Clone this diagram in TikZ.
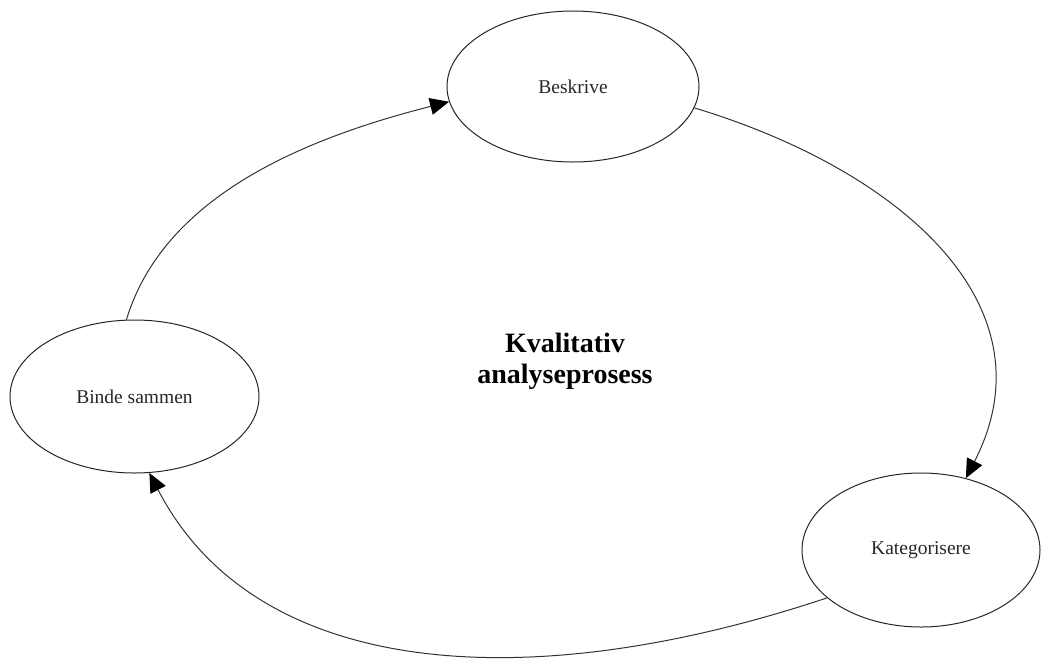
\documentclass[tikz,border=0pt]{standalone}
\usepackage{fontspec}
\setmainfont{Liberation Serif}
\usetikzlibrary{shapes.geometric,arrows.meta}
\begin{document}
\begin{tikzpicture}[x=1pt,y=-1pt,
  stage/.style={ellipse,draw=black!85,line width=1pt,inner sep=0pt,
    font=\fontsize{19.5}{23}\selectfont,text=black!85},
  flow/.style={draw=black!80,line width=1pt,
    -{Triangle[length=19pt,width=17pt,color=black,fill=black]}},
  title/.style={align=center,font=\fontsize{28}{31}\selectfont\bfseries}]
\useasboundingbox (0,0) rectangle (1042,662);
\node[stage,minimum width=252pt,minimum height=151pt] (beskrive) at (573,86.5) {Beskrive};
\node[stage,minimum width=249pt,minimum height=153pt] (binde) at (134.5,396.5) {Binde sammen};
\node[stage,minimum width=238pt,minimum height=154pt] (kat) at (921,550) {Kategorisere};
\node[title] (mid) at (565,361) {Kvalitativ\\analyseprosess};
\draw[flow] (binde.96) .. controls (163,199) and (298,140) .. (beskrive.187);
\draw[flow] (beskrive.-10) .. controls (900,170) and (1055,305) .. (kat.58);
\draw[flow] (kat.207.5) .. controls (527,698) and (256,679) .. (binde.281);
\end{tikzpicture}
\end{document}
